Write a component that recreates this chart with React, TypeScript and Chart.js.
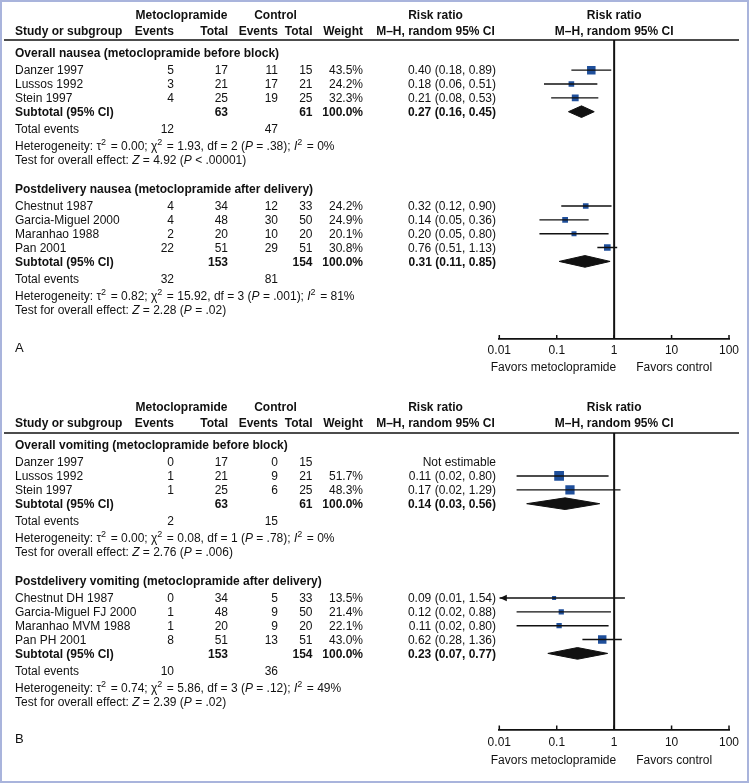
import React, { useEffect, useRef } from "react";
import { Chart, registerables } from "chart.js";

Chart.register(...registerables);

const FONT = '"Liberation Sans", Arial, Helvetica, sans-serif';
const INK = "#111111";
const BOX_BLUE = "#1f4f9b";
const FRAME = "#a9b4dc";

// ---------------- Panel A : nausea ----------------
const nauseaBeforeTitle = "Overall nausea (metoclopramide before block)";
const nauseaBeforeStudies = ["Danzer 1997", "Lussos 1992", "Stein 1997"];
const nauseaBeforeMetoEvents = [5, 3, 4];
const nauseaBeforeMetoTotal = [17, 21, 25];
const nauseaBeforeCtrlEvents = [11, 17, 19];
const nauseaBeforeCtrlTotal = [15, 21, 25];
const nauseaBeforeWeight = [43.5, 24.2, 32.3];
const nauseaBeforeRR = [0.4, 0.18, 0.21];
const nauseaBeforeLow = [0.18, 0.06, 0.08];
const nauseaBeforeHigh = [0.89, 0.51, 0.53];
const nauseaBeforeSubtotal = [0.27, 0.16, 0.45]; // RR, low, high
const nauseaBeforeTotals = [63, 61];
const nauseaBeforeTotalEvents = [12, 47];
const nauseaBeforeHet = ["0.00", "1.93", "2", "= .38", "0"]; // tau2, chi2, df, P, I2
const nauseaBeforeEffect = ["4.92", "< .00001"]; // Z, P

const nauseaAfterTitle = "Postdelivery nausea (metoclopramide after delivery)";
const nauseaAfterStudies = ["Chestnut 1987", "Garcia-Miguel 2000", "Maranhao 1988", "Pan 2001"];
const nauseaAfterMetoEvents = [4, 4, 2, 22];
const nauseaAfterMetoTotal = [34, 48, 20, 51];
const nauseaAfterCtrlEvents = [12, 30, 10, 29];
const nauseaAfterCtrlTotal = [33, 50, 20, 51];
const nauseaAfterWeight = [24.2, 24.9, 20.1, 30.8];
const nauseaAfterRR = [0.32, 0.14, 0.2, 0.76];
const nauseaAfterLow = [0.12, 0.05, 0.05, 0.51];
const nauseaAfterHigh = [0.9, 0.36, 0.8, 1.13];
const nauseaAfterSubtotal = [0.31, 0.11, 0.85];
const nauseaAfterTotals = [153, 154];
const nauseaAfterTotalEvents = [32, 81];
const nauseaAfterHet = ["0.82", "15.92", "3", "= .001", "81"];
const nauseaAfterEffect = ["2.28", "= .02"];

// ---------------- Panel B : vomiting ----------------
const vomitBeforeTitle = "Overall vomiting (metoclopramide before block)";
const vomitBeforeStudies = ["Danzer 1997", "Lussos 1992", "Stein 1997"];
const vomitBeforeMetoEvents = [0, 1, 1];
const vomitBeforeMetoTotal = [17, 21, 25];
const vomitBeforeCtrlEvents = [0, 9, 6];
const vomitBeforeCtrlTotal = [15, 21, 25];
const vomitBeforeWeight = [null, 51.7, 48.3];
const vomitBeforeRR = [null, 0.11, 0.17];
const vomitBeforeLow = [null, 0.02, 0.02];
const vomitBeforeHigh = [null, 0.8, 1.29];
const vomitBeforeSubtotal = [0.14, 0.03, 0.56];
const vomitBeforeTotals = [63, 61];
const vomitBeforeTotalEvents = [2, 15];
const vomitBeforeHet = ["0.00", "0.08", "1", "= .78", "0"];
const vomitBeforeEffect = ["2.76", "= .006"];

const vomitAfterTitle = "Postdelivery vomiting (metoclopramide after delivery)";
const vomitAfterStudies = ["Chestnut DH 1987", "Garcia-Miguel FJ 2000", "Maranhao MVM 1988", "Pan PH 2001"];
const vomitAfterMetoEvents = [0, 1, 1, 8];
const vomitAfterMetoTotal = [34, 48, 20, 51];
const vomitAfterCtrlEvents = [5, 9, 9, 13];
const vomitAfterCtrlTotal = [33, 50, 20, 51];
const vomitAfterWeight = [13.5, 21.4, 22.1, 43.0];
const vomitAfterRR = [0.09, 0.12, 0.11, 0.62];
const vomitAfterLow = [0.01, 0.02, 0.02, 0.28];
const vomitAfterHigh = [1.54, 0.88, 0.8, 1.36];
const vomitAfterSubtotal = [0.23, 0.07, 0.77];
const vomitAfterTotals = [153, 154];
const vomitAfterTotalEvents = [10, 36];
const vomitAfterHet = ["0.74", "5.86", "3", "= .12", "49"];
const vomitAfterEffect = ["2.39", "= .02"];

// axis
const AXIS_TICKS = [0.01, 0.1, 1, 10, 100];
const FAVORS_LEFT = "Favors metoclopramide";
const FAVORS_RIGHT = "Favors control";

type Group = {
  title: string;
  studies: string[];
  me: number[];
  mt: number[];
  ce: number[];
  ct: number[];
  w: (number | null)[];
  rr: (number | null)[];
  lo: (number | null)[];
  hi: (number | null)[];
  sub: number[];
  totals: number[];
  totalEvents: number[];
  het: string[];
  effect: string[];
};

function group(
  title: string, studies: string[], me: number[], mt: number[], ce: number[], ct: number[],
  w: (number | null)[], rr: (number | null)[], lo: (number | null)[], hi: (number | null)[],
  sub: number[], totals: number[], totalEvents: number[], het: string[], effect: string[]
): Group {
  return { title, studies, me, mt, ce, ct, w, rr, lo, hi, sub, totals, totalEvents, het, effect };
}

const panelAGroups: Group[] = [
  group(nauseaBeforeTitle, nauseaBeforeStudies, nauseaBeforeMetoEvents, nauseaBeforeMetoTotal,
    nauseaBeforeCtrlEvents, nauseaBeforeCtrlTotal, nauseaBeforeWeight, nauseaBeforeRR, nauseaBeforeLow,
    nauseaBeforeHigh, nauseaBeforeSubtotal, nauseaBeforeTotals, nauseaBeforeTotalEvents, nauseaBeforeHet,
    nauseaBeforeEffect),
  group(nauseaAfterTitle, nauseaAfterStudies, nauseaAfterMetoEvents, nauseaAfterMetoTotal,
    nauseaAfterCtrlEvents, nauseaAfterCtrlTotal, nauseaAfterWeight, nauseaAfterRR, nauseaAfterLow,
    nauseaAfterHigh, nauseaAfterSubtotal, nauseaAfterTotals, nauseaAfterTotalEvents, nauseaAfterHet,
    nauseaAfterEffect),
];

const panelBGroups: Group[] = [
  group(vomitBeforeTitle, vomitBeforeStudies, vomitBeforeMetoEvents, vomitBeforeMetoTotal,
    vomitBeforeCtrlEvents, vomitBeforeCtrlTotal, vomitBeforeWeight, vomitBeforeRR, vomitBeforeLow,
    vomitBeforeHigh, vomitBeforeSubtotal, vomitBeforeTotals, vomitBeforeTotalEvents, vomitBeforeHet,
    vomitBeforeEffect),
  group(vomitAfterTitle, vomitAfterStudies, vomitAfterMetoEvents, vomitAfterMetoTotal,
    vomitAfterCtrlEvents, vomitAfterCtrlTotal, vomitAfterWeight, vomitAfterRR, vomitAfterLow,
    vomitAfterHigh, vomitAfterSubtotal, vomitAfterTotals, vomitAfterTotalEvents, vomitAfterHet,
    vomitAfterEffect),
];

// ---------------- layout (row units) ----------------
const ROW_UNIT_PX = 13.85; // pixel height of one table row
const FIRST_ROW_PX = 70; // pixel centre of the first study row
const HEADER1_ROW = -3.97;
const HEADER2_ROW = -2.82;

type RowLayout = { title: number; studies: number[]; sub: number; tot: number; het: number; test: number };

function layoutGroups(groups: Group[]): RowLayout[] {
  const out: RowLayout[] = [];
  let cursor = -1.22;
  groups.forEach((g) => {
    const title = cursor;
    const studies = g.studies.map((_, i) => title + 1.23 + i);
    const sub = title + 1.23 + g.studies.length;
    const tot = sub + 1.24;
    const het = tot + 1.24;
    const test = het + 0.97;
    out.push({ title, studies, sub, tot, het, test });
    cursor = test + 2.13;
  });
  return out;
}

const COL = {
  name: 15,
  metoEvents: 174,
  metoTotal: 228,
  ctrlEvents: 278,
  ctrlTotal: 312.5,
  weight: 363,
  rrText: 496,
  metoHead: 181.5,
  ctrlHead: 275.5,
  rrHead: 435.5,
};

type Seg = { t: string; it?: boolean; sup?: boolean };

function fmt2(v: number) {
  return v.toFixed(2);
}

function drawText(ctx: CanvasRenderingContext2D, s: string, x: number, y: number, align: CanvasTextAlign, bold = false, size = 12) {
  ctx.font = `${bold ? "bold " : ""}${size}px ${FONT}`;
  ctx.textAlign = align;
  ctx.textBaseline = "alphabetic";
  ctx.fillStyle = INK;
  ctx.fillText(s, x, y + size * 0.36);
}

function drawRich(ctx: CanvasRenderingContext2D, segs: Seg[], x: number, y: number, size = 12) {
  let cx = x;
  ctx.textAlign = "left";
  ctx.textBaseline = "alphabetic";
  ctx.fillStyle = INK;
  const base = y + size * 0.36;
  for (const s of segs) {
    const fs = s.sup ? 9 : size;
    ctx.font = `${s.it ? "italic " : ""}${fs}px ${FONT}`;
    const yy = s.sup ? base - 5 : base;
    ctx.fillText(s.t, cx, yy);
    cx += ctx.measureText(s.t).width + (s.sup ? 1.2 : 0);
  }
}

type PanelProps = {
  groups: Group[];
  letter: string;
  height: number;
  top: number;
  bottom: number;
  tickPad: number;
  favorsGap: number;
};

function ForestPanel({ groups, letter, height, top, bottom, tickPad, favorsGap }: PanelProps) {
  const ref = useRef<HTMLCanvasElement>(null);

  useEffect(() => {
    const canvas = ref.current;
    if (!canvas) return;
    const rows = layoutGroups(groups);
    const yMin = (top - FIRST_ROW_PX) / ROW_UNIT_PX;
    const yMax = (bottom - FIRST_ROW_PX) / ROW_UNIT_PX;
    const AXIS_H = 30;

    const datasets: any[] = [];
    // line of no effect
    datasets.push({
      data: [{ x: 1, y: yMin }, { x: 1, y: yMax }],
      borderColor: INK,
      borderWidth: 2,
      pointRadius: 0,
      fill: false,
    });
    // confidence intervals
    groups.forEach((g, gi) => {
      g.rr.forEach((rr, i) => {
        if (rr == null) return;
        const y = rows[gi].studies[i];
        datasets.push({
          data: [{ x: g.lo[i], y }, { x: g.hi[i], y }],
          borderColor: INK,
          borderWidth: 1.4,
          pointRadius: 0,
          fill: false,
        });
      });
    });
    // study boxes (side grows with weight)
    groups.forEach((g, gi) => {
      const pts: any[] = [];
      const radii: number[] = [];
      g.rr.forEach((rr, i) => {
        if (rr == null) return;
        pts.push({ x: rr, y: rows[gi].studies[i] });
        const side = 2 + 0.15 * (g.w[i] as number);
        radii.push(side / Math.SQRT2);
      });
      datasets.push({
        data: pts,
        showLine: false,
        pointStyle: "rect",
        pointRadius: radii,
        pointBackgroundColor: BOX_BLUE,
        pointBorderColor: BOX_BLUE,
        pointBorderWidth: 0,
      });
    });
    // subtotal diamonds
    groups.forEach((g, gi) => {
      const y = rows[gi].sub;
      const [rr, lo, hi] = g.sub;
      datasets.push({
        data: [
          { x: lo, y },
          { x: rr, y: y - 0.42 },
          { x: hi, y },
          { x: rr, y: y + 0.42 },
          { x: lo, y },
        ],
        borderColor: INK,
        backgroundColor: INK,
        borderWidth: 1,
        pointRadius: 0,
        fill: "shape",
        tension: 0,
      });
    });

    const tablePlugin = {
      id: "forestTable",
      afterDraw(chart: any) {
        const ctx: CanvasRenderingContext2D = chart.ctx;
        const xs = chart.scales.x;
        const ys = chart.scales.y;
        const area = chart.chartArea;
        const py = (v: number) => ys.getPixelForValue(v);
        const x1 = xs.getPixelForValue(1);
        ctx.save();

        // header
        const h1 = py(HEADER1_ROW);
        const h2 = py(HEADER2_ROW);
        drawText(ctx, "Metoclopramide", COL.metoHead, h1, "center", true);
        drawText(ctx, "Control", COL.ctrlHead, h1, "center", true);
        drawText(ctx, "Risk ratio", COL.rrHead, h1, "center", true);
        drawText(ctx, "Risk ratio", x1, h1, "center", true);
        drawText(ctx, "Study or subgroup", COL.name, h2, "left", true);
        drawText(ctx, "Events", COL.metoEvents, h2, "right", true);
        drawText(ctx, "Total", COL.metoTotal, h2, "right", true);
        drawText(ctx, "Events", COL.ctrlEvents, h2, "right", true);
        drawText(ctx, "Total", COL.ctrlTotal, h2, "right", true);
        drawText(ctx, "Weight", COL.weight, h2, "right", true);
        drawText(ctx, "M\u2013H, random 95% CI", COL.rrHead, h2, "center", true);
        drawText(ctx, "M\u2013H, random 95% CI", x1, h2, "center", true);

        // header rule
        ctx.strokeStyle = INK;
        ctx.lineWidth = 1.7;
        ctx.beginPath();
        ctx.moveTo(4, area.top);
        ctx.lineTo(739, area.top);
        ctx.stroke();

        groups.forEach((g, gi) => {
          const r = rows[gi];
          drawText(ctx, g.title, COL.name, py(r.title), "left", true);
          g.studies.forEach((s, i) => {
            const y = py(r.studies[i]);
            drawText(ctx, s, COL.name, y, "left");
            drawText(ctx, String(g.me[i]), COL.metoEvents, y, "right");
            drawText(ctx, String(g.mt[i]), COL.metoTotal, y, "right");
            drawText(ctx, String(g.ce[i]), COL.ctrlEvents, y, "right");
            drawText(ctx, String(g.ct[i]), COL.ctrlTotal, y, "right");
            const w = g.w[i];
            if (w != null) drawText(ctx, w.toFixed(1) + "%", COL.weight, y, "right");
            const rr = g.rr[i];
            if (rr != null) {
              drawText(ctx, `${fmt2(rr)} (${fmt2(g.lo[i] as number)}, ${fmt2(g.hi[i] as number)})`, COL.rrText, y, "right");
            } else {
              drawText(ctx, "Not estimable", COL.rrText, y, "right");
            }
            // arrow for a CI truncated at the axis minimum
            const lo = g.lo[i];
            if (rr != null && lo != null && lo <= xs.min) {
              const ax = xs.getPixelForValue(xs.min) + 0.5;
              ctx.fillStyle = INK;
              ctx.beginPath();
              ctx.moveTo(ax, y);
              ctx.lineTo(ax + 7, y - 3.2);
              ctx.lineTo(ax + 7, y + 3.2);
              ctx.closePath();
              ctx.fill();
            }
          });
          const ys2 = py(r.sub);
          drawText(ctx, "Subtotal (95% CI)", COL.name, ys2, "left", true);
          drawText(ctx, String(g.totals[0]), COL.metoTotal, ys2, "right", true);
          drawText(ctx, String(g.totals[1]), COL.ctrlTotal, ys2, "right", true);
          drawText(ctx, "100.0%", COL.weight, ys2, "right", true);
          drawText(ctx, `${fmt2(g.sub[0])} (${fmt2(g.sub[1])}, ${fmt2(g.sub[2])})`, COL.rrText, ys2, "right", true);

          const yt = py(r.tot);
          drawText(ctx, "Total events", COL.name, yt, "left");
          drawText(ctx, String(g.totalEvents[0]), COL.metoEvents, yt, "right");
          drawText(ctx, String(g.totalEvents[1]), COL.ctrlEvents, yt, "right");

          const [tau2, chi2, df, pHet, i2] = g.het;
          drawRich(ctx, [
            { t: "Heterogeneity: \u03C4" },
            { t: "2", sup: true },
            { t: ` = ${tau2}; \u03C7` },
            { t: "2", sup: true },
            { t: ` = ${chi2}, df = ${df} (` },
            { t: "P", it: true },
            { t: ` ${pHet}); ` },
            { t: "I", it: true },
            { t: "2", sup: true },
            { t: ` = ${i2}%` },
          ], COL.name, py(r.het));
          const [z, pZ] = g.effect;
          drawRich(ctx, [
            { t: "Test for overall effect: " },
            { t: "Z", it: true },
            { t: ` = ${z} (` },
            { t: "P", it: true },
            { t: ` ${pZ})` },
          ], COL.name, py(r.test));
        });

        // axis tick marks (pointing up)
        ctx.strokeStyle = INK;
        ctx.lineWidth = 1.5;
        AXIS_TICKS.forEach((v) => {
          const x = xs.getPixelForValue(v);
          ctx.beginPath();
          ctx.moveTo(x, area.bottom);
          ctx.lineTo(x, area.bottom - 4);
          ctx.stroke();
        });

        // favours labels
        const fy = area.bottom + favorsGap;
        drawText(ctx, FAVORS_LEFT, x1 + 2, fy, "right");
        drawText(ctx, FAVORS_RIGHT, x1 + 22, fy, "left");

        // panel letter
        drawText(ctx, letter, COL.name, area.bottom + 8.5, "left", false, 13);
        ctx.restore();
      },
    };

    const chart = new Chart(canvas, {
      type: "line",
      data: { datasets },
      options: {
        animation: false,
        responsive: false,
        maintainAspectRatio: false,
        events: [],
        layout: { padding: { left: 499.3, right: 20, top, bottom: height - bottom - AXIS_H } },
        plugins: { legend: { display: false }, tooltip: { enabled: false } },
        scales: {
          x: {
            type: "logarithmic",
            position: "bottom",
            min: 0.01,
            max: 100,
            afterBuildTicks: (scale: any) => {
              scale.ticks = AXIS_TICKS.map((v) => ({ value: v }));
            },
            afterFit: (scale: any) => {
              scale.height = AXIS_H;
            },
            grid: { display: false, drawTicks: false, tickLength: 0 },
            border: { display: true, color: INK, width: 1.7 },
            ticks: {
              autoSkip: false,
              maxRotation: 0,
              padding: tickPad,
              color: INK,
              font: { family: FONT, size: 12 },
              callback: (v: any) => String(v),
            },
          },
          y: {
            type: "linear",
            display: false,
            reverse: true,
            min: yMin,
            max: yMax,
          },
        },
      } as any,
      plugins: [tablePlugin],
    });
    return () => chart.destroy();
  }, []);

  return <canvas ref={ref} width={749} height={height} style={{ display: "block", width: 749, height }} />;
}

export default function App() {
  return (
    <div style={{ position: "absolute", left: 0, top: 0, width: 749, height: 784, background: "#fff" }}>
      <ForestPanel groups={panelAGroups} letter="A" height={392} top={40} bottom={339} tickPad={4} favorsGap={28} />
      <ForestPanel groups={panelBGroups} letter="B" height={392} top={41} bottom={337.5} tickPad={6} favorsGap={30.5} />
      <div
        style={{
          position: "absolute",
          left: 0,
          top: 0,
          width: 749,
          height: 783,
          border: `2px solid ${FRAME}`,
          boxSizing: "border-box",
          pointerEvents: "none",
        }}
      />
    </div>
  );
}
